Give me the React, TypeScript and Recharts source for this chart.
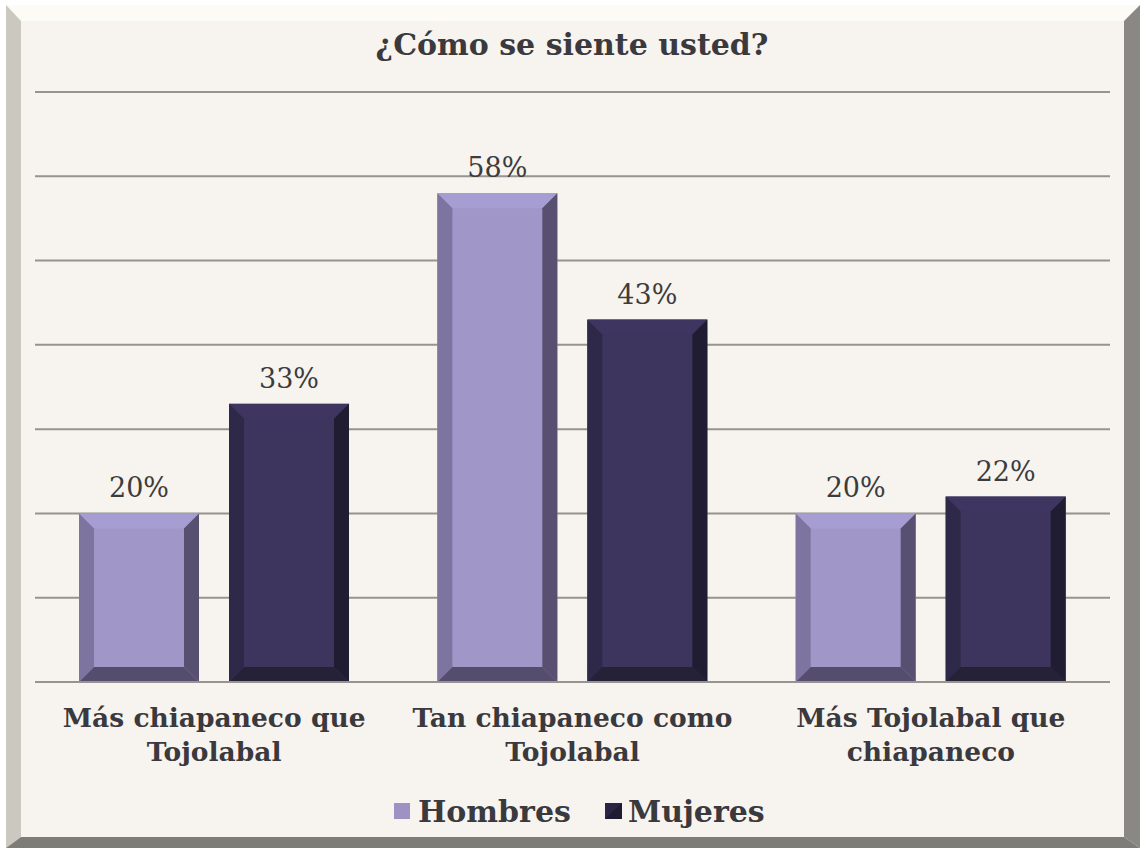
import { BarChart, Bar, XAxis, YAxis, CartesianGrid, LabelList } from 'recharts';

const categories = ['Más chiapaneco que\nTojolabal', 'Tan chiapaneco como\nTojolabal', 'Más Tojolabal que\nchiapaneco'];
const hombres = [20, 58, 20];
const mujeres = [33, 43, 22];
const yTicks = [0, 10, 20, 30, 40, 50, 60, 70];

const FONT = "'DejaVu Serif', serif";
const TEXT = '#3a393d';

const BEVEL: Record<string, { face: string; top: string; left: string; right: string; bottom: string }> = {
  hombres: { face: '#a096c8', top: '#a69dd2', left: '#7e74a0', right: '#575071', bottom: '#554d6d' },
  mujeres: { face: '#3d355e', top: '#3e3661', left: '#2e2948', right: '#201d33', bottom: '#252137' },
};

const data = categories.map((c, i) => ({ name: c, hombres: hombres[i], mujeres: mujeres[i] }));

function bevelShape(key: string) {
  return (props: any) => {
    const { x, y, width: w, height: h } = props;
    if (!h || h <= 0) return <g />;
    const c = BEVEL[key];
    const b = Math.min(15, w / 2, h / 2);
    const x2 = x + w;
    const y2 = y + h;
    return (
      <g>
        <rect x={x} y={y} width={w} height={h} fill={c.face} />
        <polygon points={`${x},${y} ${x2},${y} ${x2 - b},${y + b} ${x + b},${y + b}`} fill={c.top} />
        <polygon points={`${x},${y} ${x + b},${y + b} ${x + b},${y2 - b} ${x},${y2}`} fill={c.left} />
        <polygon points={`${x2},${y} ${x2},${y2} ${x2 - b},${y2 - b} ${x2 - b},${y + b}`} fill={c.right} />
        <polygon points={`${x},${y2} ${x + b},${y2 - b} ${x2 - b},${y2 - b} ${x2},${y2}`} fill={c.bottom} />
      </g>
    );
  };
}

function CategoryTick(props: any) {
  const { x, y, payload } = props;
  const lines = String(payload.value).split('\n');
  return (
    <g>
      {lines.map((l, i) => (
        <text
          key={i}
          x={x}
          y={y + 45 + i * 34}
          textAnchor="middle"
          fontFamily={FONT}
          fontWeight="bold"
          fontSize={26.5}
          fill={TEXT}
        >
          {l}
        </text>
      ))}
    </g>
  );
}

function Frame() {
  return (
    <svg width={1144} height={848} style={{ position: 'absolute', left: 0, top: 0 }}>
      <rect x={0} y={0} width={1144} height={848} fill="#ffffff" />
      <polygon points="6,5 1140,5 1124,21 21,21" fill="#fcfbf6" />
      <polygon points="6,5 21,21 21,837 6,848" fill="#cbc8c0" />
      <polygon points="1140,5 1140,848 1124,837 1124,21" fill="#8a8884" />
      <polygon points="6,848 21,837 1124,837 1140,848" fill="#7e7c77" />
      <rect x={21} y={21} width={1103} height={816} fill="#f7f3ee" />
      <text x={572} y={55} textAnchor="middle" fontFamily={FONT} fontWeight="bold" fontSize={30} fill={TEXT}>
        ¿Cómo se siente usted?
      </text>
      <rect x={394} y={803} width={16} height={16} fill="#9d92c4" />
      <text x={418} y={822} fontFamily={FONT} fontWeight="bold" fontSize={30} fill={TEXT}>
        Hombres
      </text>
      <rect x={605} y={803} width={17} height={16} fill="#2a2445" />
      <polygon points="622,803 622,819 605,819" fill="#1f1b33" />
      <text x={628} y={822} fontFamily={FONT} fontWeight="bold" fontSize={30} fill={TEXT}>
        Mujeres
      </text>
    </svg>
  );
}

export default function App() {
  return (
    <div style={{ position: 'absolute', left: 0, top: 0, width: 1144, height: 848 }}>
      <Frame />
      <div style={{ position: 'absolute', left: 0, top: 0 }}>
        <BarChart
          width={1144}
          height={848}
          data={data}
          margin={{ top: 92, right: 34, bottom: 0, left: 35 }}
          barGap={30}
          barSize={120}
        >
          <CartesianGrid horizontal vertical={false} stroke="#969390" strokeWidth={2} />
          <YAxis hide domain={[0, 70]} ticks={yTicks} />
          <XAxis
            dataKey="name"
            height={166}
            interval={0}
            tick={<CategoryTick />}
            tickLine={false}
            tickSize={0}
            tickMargin={0}
            axisLine={{ stroke: '#969390', strokeWidth: 2 }}
          />
          <Bar dataKey="hombres" name="Hombres" fill="#a096c8" shape={bevelShape('hombres')} isAnimationActive={false}>
            <LabelList
              dataKey="hombres"
              position="top"
              offset={16}
              formatter={(v: any) => `${v}%`}
              fill="#3c3c3c"
              fontFamily={FONT}
              fontSize={27}
            />
          </Bar>
          <Bar dataKey="mujeres" name="Mujeres" fill="#3d355e" shape={bevelShape('mujeres')} isAnimationActive={false}>
            <LabelList
              dataKey="mujeres"
              position="top"
              offset={16}
              formatter={(v: any) => `${v}%`}
              fill="#3c3c3c"
              fontFamily={FONT}
              fontSize={27}
            />
          </Bar>
        </BarChart>
      </div>
    </div>
  );
}
